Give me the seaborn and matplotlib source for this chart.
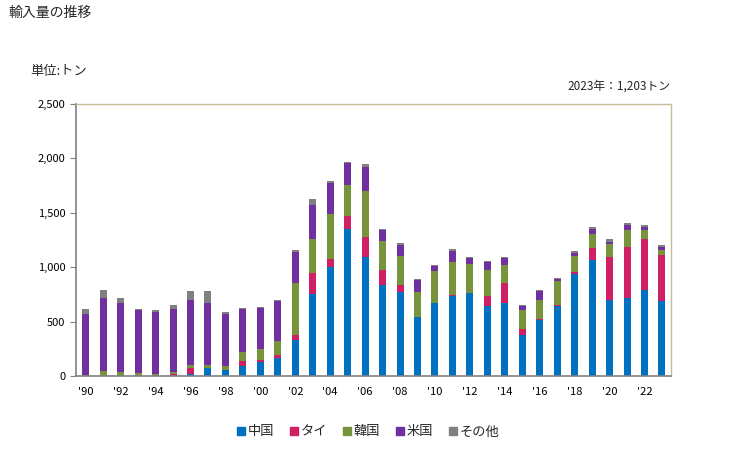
import pandas as pd
import numpy as np
import seaborn as sns
import matplotlib.pyplot as plt
from matplotlib.ticker import FuncFormatter
from matplotlib.patches import Patch

years = list(range(1990, 2024))
china = [0, 0, 0, 0, 0, 0, 21, 73, 55, 92, 128, 165, 333, 755, 999, 1348, 1091,
         834, 773, 541, 669, 737, 761, 645, 669, 376, 513, 642, 941, 1070, 697,
         721, 788, 688]
thai = [0, 0, 0, 0, 0, 18, 52, 0, 0, 46, 18, 28, 43, 189, 73, 119, 183, 138,
        61, 0, 0, 6, 0, 89, 183, 55, 9, 9, 12, 104, 394, 461, 468, 422]
korea = [9, 46, 37, 28, 18, 18, 28, 28, 37, 83, 101, 128, 477, 312, 422, 293,
         431, 266, 266, 229, 293, 303, 266, 238, 165, 174, 174, 220, 147, 128,
         119, 165, 83, 46]
usa = [559, 669, 633, 578, 568, 578, 596, 568, 477, 394, 376, 367, 284, 312,
       284, 202, 220, 101, 101, 110, 46, 101, 58, 73, 64, 37, 83, 18, 28, 46,
       18, 46, 28, 28]
other = [46, 73, 46, 9, 18, 37, 83, 110, 18, 9, 9, 9, 18, 55, 18, 9, 28, 9,
         18, 9, 9, 18, 6, 9, 9, 9, 9, 9, 18, 18, 28, 18, 18, 19]

series = ['中国', 'タイ', '韓国', '米国', 'その他']
colors = ['#0070C0', '#D01F63', '#77933C', '#7030A0', '#808080']

df = pd.DataFrame({'year': [str(y) for y in years], '中国': china, 'タイ': thai,
                   '韓国': korea, '米国': usa, 'その他': other})
cum = df[series].cumsum(axis=1)

sns.set_style('white')
plt.rcParams['font.family'] = ['Noto Sans CJK JP', 'DejaVu Sans']

fig = plt.figure(figsize=(7.29, 4.5), dpi=100)
ax = fig.add_axes([0.104, 0.164, 0.816, 0.605])

# draw cumulative totals from top layer down so stacks overlap
for name, col in reversed(list(zip(series, colors))):
    sns.barplot(x=df['year'], y=cum[name], color=col, width=0.4,
                saturation=1, linewidth=0, ax=ax)

ax.set_xlim(-0.57, 33.5)
ax.set_ylim(0, 2500)
ax.set_yticks(range(0, 2501, 500))
ax.yaxis.set_major_formatter(FuncFormatter(lambda v, p: f'{int(v):,}'))
ax.set_xticks(range(0, 34, 2))
ax.set_xticklabels([f"'{str(y)[2:]}" for y in years[::2]])
ax.set_xlabel('')
ax.set_ylabel('')
ax.tick_params(axis='both', labelsize=8, colors='black', length=4,
               direction='out', left=True, bottom=False, width=0.8)
ax.tick_params(axis='y', color='#808080')
for s in ['left', 'bottom']:
    ax.spines[s].set_color('#808080')
    ax.spines[s].set_linewidth(1.2)
for s in ['top', 'right']:
    ax.spines[s].set_color('#C4BD97')
    ax.spines[s].set_linewidth(1.0)

fig.text(0.011, 0.972, '輸入量の推移', fontsize=10, va='center', ha='left')
fig.text(0.041, 0.84, '単位:トン', fontsize=9.5, va='center', ha='left')
fig.text(0.92, 0.809, '2023年：1,203トン', fontsize=8.5, va='center', ha='right')

handles = [Patch(color=c, label=n) for n, c in zip(series, colors)]
fig.legend(handles=handles, loc='center', bbox_to_anchor=(0.505, 0.04), ncol=5,
           frameon=False, fontsize=9.5, handlelength=0.6, handleheight=0.6,
           handletextpad=0.2, columnspacing=1.2)

fig.savefig('out.png', dpi=100)
